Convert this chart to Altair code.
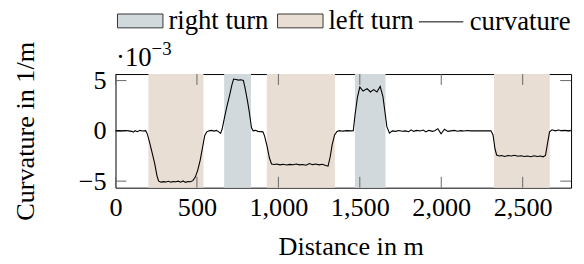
import altair as alt
import pandas as pd

# ---- data (curvature in 1e-3 1/m) ----
dist = [0, 20, 40, 60, 80, 100, 110, 120, 135, 150, 165, 185, 195, 210, 225, 240, 255, 265,
        280, 295, 310, 325, 340, 355, 370, 385, 400, 415, 430, 445, 460, 475, 490, 505, 520,
        535, 548, 560, 575, 590, 605, 620, 632, 645, 655, 670, 685, 700, 715, 725, 740, 755,
        770, 785, 795, 810, 822, 835, 845, 860, 875, 890, 905, 915, 930, 945, 958, 975, 990,
        1010, 1030, 1050, 1070, 1090, 1110, 1130, 1150, 1170, 1190, 1210, 1230, 1250, 1270,
        1290, 1305, 1318, 1330, 1345, 1360, 1375, 1395, 1420, 1445, 1460, 1470, 1485, 1500,
        1520, 1545, 1565, 1585, 1605, 1625, 1642, 1655, 1666, 1682, 1700, 1720, 1740, 1760,
        1780, 1800, 1815, 1830, 1850, 1870, 1890, 1905, 1925, 1945, 1960, 1979, 1999, 2020,
        2040, 2060, 2080, 2100, 2120, 2140, 2160, 2180, 2200, 2220, 2250, 2280, 2305, 2318,
        2330, 2340, 2355, 2370, 2390, 2410, 2430, 2450, 2470, 2490, 2510, 2530, 2550, 2570,
        2590, 2610, 2625, 2640, 2652, 2665, 2680, 2700, 2720, 2740, 2760, 2780, 2795]
curv = [0.0, 0.02, 0.0, 0.03, 0.0, -0.05, -0.12, 0.02, -0.08, 0.05, -0.02, 0.02, -0.3, -1.2,
        -2.2, -3.2, -4.5, -5.0, -5.1, -5.05, -5.08, -5.02, -5.1, -5.04, -5.06, -5.0, -5.1,
        -4.98, -5.12, -5.04, -5.06, -4.95, -4.6, -3.9, -2.9, -1.6, -0.45, -0.1, 0.0, 0.05,
        -0.02, 0.05, -0.08, -0.25, 0.2, 1.4, 2.5, 3.5, 4.6, 5.15, 5.1, 5.05, 5.08, 5.02, 4.3,
        3.0, 1.8, 0.3, 0.0, 0.05, -0.05, -0.08, -0.1, -0.5, -1.5, -2.7, -3.3, -3.35, -3.3,
        -3.38, -3.32, -3.4, -3.33, -3.37, -3.3, -3.38, -3.35, -3.42, -3.25, -3.36, -3.3,
        -3.38, -3.32, -3.45, -3.5, -2.6, -1.4, -0.4, -0.05, 0.02, -0.03, 0.02, 0.0, 0.02, 1.5,
        3.3, 4.36, 3.96, 4.2, 3.87, 4.1, 3.87, 4.42, 3.4, 1.8, 0.42, -0.23, 0.0, -0.05, 0.03,
        -0.04, 0.0, -0.08, 0.1, -0.05, 0.05, -0.02, 0.08, -0.1, 0.05, -0.05, 0.02, 0.22, -0.3,
        0.16, -0.05, 0.0, 0.05, -0.03, 0.02, -0.02, 0.03, 0.0, 0.0, 0.0, 0.0, 0.0, 0.0, -0.4,
        -1.8, -2.4, -2.5, -2.45, -2.55, -2.45, -2.5, -2.42, -2.52, -2.48, -2.55, -2.5, -2.58,
        -2.48, -2.55, -2.5, -2.58, -2.45, -1.3, -0.1, 0.1, 0.0, 0.08, 0.02, 0.06, 0.0, 0.05]

band_start = [202, 667, 929, 1470, 2324]
band_end = [540, 832, 1347, 1658, 2666]
band_kind = ["left turn", "right turn", "left turn", "right turn", "left turn"]

x_ticks = [0, 500, 1000, 1500, 2000, 2500]
y_ticks = [-5, 0, 5]

kinds = ["right turn", "left turn"]
kind_colors = ["#d2d9dd", "#e9ded3"]

# ---- layout ----
W, H = 461, 115
FONT = "Liberation Serif"
FS = 26.5
LFS = 27
TICK_LEN = 11
TICK_COLOR = "#666666"

line_df = pd.DataFrame({"dist": dist, "curv": curv, "series": "curvature"})
band_df = pd.DataFrame({"start": band_start, "end": band_end, "kind": band_kind})
xt_df = pd.DataFrame({"t": x_ticks})
yt_df = pd.DataFrame({"t": y_ticks})

xs = alt.Scale(domain=[0, 2797], nice=False, zero=False)
ys = alt.Scale(domain=[-5.65, 5.65], nice=False, zero=False)

ax_x = alt.Axis(values=x_ticks, format=",.0f", ticks=False, tickSize=0, domain=False, grid=False,
                labelFont=FONT, labelFontSize=FS, labelColor="black", labelBaseline="alphabetic",
                labelPadding=28, labelFlush=False, labelOverlap=False,
                title="Distance in m", titleFont=FONT, titleFontSize=FS, titleFontWeight="normal",
                titleColor="black", titleBaseline="alphabetic", titleAlign="center",
                titleX=238, titleY=68)
ax_y = alt.Axis(values=y_ticks, format=".0f", ticks=False, tickSize=0, domain=False, grid=False,
                labelFont=FONT, labelFontSize=FS, labelColor="black", labelPadding=9.5,
                labelBaseline="middle", labelFlush=False, labelOverlap=False,
                title="Curvature in 1/m", titleFont=FONT, titleFontSize=FS,
                titleFontWeight="normal", titleColor="black", titleBaseline="alphabetic",
                titleAlign="center", titleAngle=270, titleX=-82.5, titleY=H / 2)

bands = alt.Chart(band_df).mark_rect().encode(
    x=alt.X("start:Q", scale=xs, axis=ax_x),
    x2="end:Q",
    fill=alt.Fill("kind:N", scale=alt.Scale(domain=kinds, range=kind_colors),
                  legend=alt.Legend(title=None, orient="none", direction="horizontal",
                                    legendX=1.5, legendY=-77.5, padding=0,
                                    symbolType="M-1,-0.3043L1,-0.3043L1,0.3043L-1,0.3043Z",
                                    symbolSize=2116, symbolStrokeColor="#333333",
                                    symbolStrokeWidth=1, symbolOpacity=1,
                                    labelFont=FONT, labelFontSize=LFS, labelColor="black",
                                    labelOffset=5, columnPadding=6, labelLimit=300)),
)

line = alt.Chart(line_df).mark_line(strokeWidth=1.1).encode(
    x=alt.X("dist:Q", scale=xs, axis=ax_x),
    y=alt.Y("curv:Q", scale=ys, axis=ax_y),
    stroke=alt.Stroke("series:N", scale=alt.Scale(domain=["curvature"], range=["black"]),
                      legend=alt.Legend(title=None, orient="none", direction="horizontal",
                                        legendX=306.5, legendY=-75.8, padding=0,
                                        symbolType="stroke", symbolSize=2025,
                                        symbolStrokeWidth=1, labelFont=FONT,
                                        labelFontSize=LFS, labelColor="black",
                                        labelOffset=6, labelLimit=300)),
)

xt_top = alt.Chart(xt_df).mark_rule(color=TICK_COLOR, strokeWidth=1).encode(
    x=alt.X("t:Q", scale=xs, axis=ax_x), y=alt.value(0), y2=alt.value(TICK_LEN))
xt_bot = alt.Chart(xt_df).mark_rule(color=TICK_COLOR, strokeWidth=1).encode(
    x=alt.X("t:Q", scale=xs, axis=ax_x), y=alt.value(H - TICK_LEN), y2=alt.value(H))
yt_left = alt.Chart(yt_df).mark_rule(color=TICK_COLOR, strokeWidth=1).encode(
    y=alt.Y("t:Q", scale=ys, axis=ax_y), x=alt.value(0), x2=alt.value(TICK_LEN))
yt_right = alt.Chart(yt_df).mark_rule(color=TICK_COLOR, strokeWidth=1).encode(
    y=alt.Y("t:Q", scale=ys, axis=ax_y), x=alt.value(W - TICK_LEN), x2=alt.value(W))

mult_df = pd.DataFrame({"base": ["\u00b710"], "exp": ["\u22123"]})
mult_base = alt.Chart(mult_df).mark_text(font=FONT, fontSize=27, align="left",
                                         baseline="alphabetic", color="black").encode(
    x=alt.value(0.5), y=alt.value(-8.3), text="base:N")
mult_exp = alt.Chart(mult_df).mark_text(font=FONT, fontSize=19, align="left",
                                        baseline="alphabetic", color="black").encode(
    x=alt.value(36.5), y=alt.value(-19.5), text="exp:N")

chart = alt.layer(bands, xt_top, xt_bot, yt_left, yt_right, line, mult_base, mult_exp).resolve_scale(
    fill="independent", stroke="independent"
).properties(
    width=W, height=H,
    padding={"left": 108.8, "top": 65.3, "right": 5, "bottom": 75.7},
    autosize=alt.AutoSizeParams(type="none"),
).configure(
    background="white", font=FONT
).configure_view(
    stroke="black", strokeWidth=1
).configure_axis(
    labelFont=FONT, titleFont=FONT, labelFontSize=FS, titleFontSize=FS
).configure_legend(
    labelFont=FONT, labelFontSize=LFS
).configure_text(font=FONT)

chart.save("out.html", embed_options={"renderer": "svg", "actions": False})
